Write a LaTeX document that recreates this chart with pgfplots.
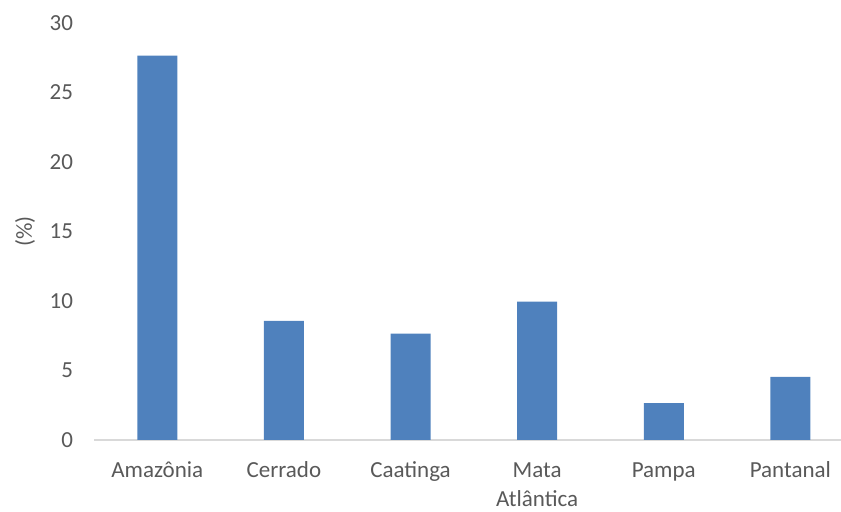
\documentclass[border=0pt]{standalone}
\usepackage{pgfplots}
\pgfplotsset{compat=1.18}
\usepackage{fontspec}
\setmainfont{Carlito}
\definecolor{barblue}{HTML}{4F81BD}
\definecolor{txtgray}{HTML}{595959}
\definecolor{axgray}{HTML}{D9D9D9}
\begin{document}
\begin{tikzpicture}
\begin{axis}[
  name=ax,
  scale only axis,
  width=373.5pt, height=208.5pt,
  xmin=-0.5, xmax=5.4,
  ymin=0, ymax=30,
  ytick={0,5,...,30},
  xtick={0,1,2,3,4,5},
  xticklabels={\strut Amazônia,\strut Cerrado,\strut Caatinga,{\strut Mata\\\strut Atlântica},\strut Pampa,\strut Pantanal},
  x tick label style={align=center, font=\fontsize{11.5}{14.5}\selectfont, text=txtgray, yshift=-5pt},
  y tick label style={font=\fontsize{11.5}{13.5}\selectfont, text=txtgray, xshift=-7pt},
  /pgf/number format/assume math mode=true,
  major tick length=0pt,
  axis x line*=bottom,
  axis y line*=left,
  x axis line style={draw=axgray, line width=1pt, -},
  y axis line style={draw=none},
  ylabel={(\%)},
  every axis y label/.style={at={([xshift=-34.5pt]axis description cs:0,0.5)}, rotate=90, anchor=center, font=\fontsize{11.5}{13.5}\selectfont, text=txtgray},
  ybar, bar width=20pt,
  clip=false,
]
\addplot[fill=barblue, draw=none] coordinates {(0,27.66) (1,8.57) (2,7.66) (3,9.96) (4,2.66) (5,4.55)};
\end{axis}
\pgfresetboundingbox
\path (ax.south west) ++(-47pt,-35.5pt) rectangle ([yshift=11.5pt]ax.north east);
\end{tikzpicture}
\end{document}
